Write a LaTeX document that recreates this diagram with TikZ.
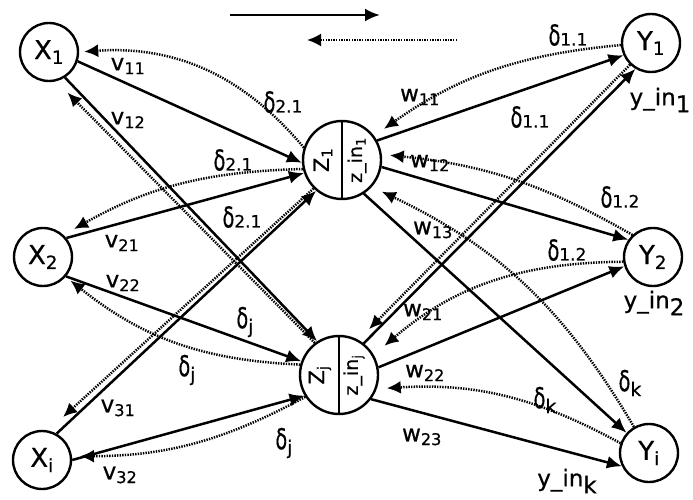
\documentclass[tikz,border=0pt]{standalone}
\usepackage{fontspec}
\setmainfont{DejaVu Sans}[FakeBold=0.6]
\usetikzlibrary{arrows.meta}

\newcommand{\dl}{\scalebox{0.8}[1.2]{δ}}
\newcommand{\fs}[1]{\fontsize{#1}{#1}\selectfont}
\newcommand{\lw}[1]{\raisebox{-5pt}{\fs{19}#1}}

\tikzset{every path/.style={line width=2.5pt}}
\tikzset{
  neuron/.style={circle,draw,line width=2.4pt,minimum size=58pt,inner sep=0pt,font=\fs{26}},
  hidden/.style={circle,draw,line width=2.4pt,minimum size=78pt,inner sep=0pt},
  fwd/.style={line width=2.6pt,-{Latex[length=15pt,width=13pt]}},
  bk/.style={line width=2.2pt,dash pattern=on 1.4pt off 1.2pt,shorten >=8pt,-{Latex[length=14pt,width=13pt]}},
  wlab/.style={inner sep=1pt,font=\fs{23}},
  dlab/.style={inner sep=1pt,font=\fs{24}},
}

\begin{document}
\begin{tikzpicture}[x=1pt,y=1pt]
  \useasboundingbox (0,0) rectangle (693,499);
  % input, hidden and output units
  \node[neuron] (x1) at (49,447) {X\textsubscript{1}};
  \node[neuron] (x2) at (43,242) {X\textsubscript{2}};
  \node[neuron] (xi) at (42,39) {X\textsubscript{i}};
  \node[hidden] (z1) at (342,339) {};
  \node[hidden] (zj) at (339,124) {};
  \node[neuron] (y1) at (651,456) {Y\textsubscript{1}};
  \node[neuron] (y2) at (653,242) {Y\textsubscript{2}};
  \node[neuron] (yi) at (649,46) {Y\textsubscript{i}};
  \draw[line width=1.3pt] (z1.north) -- (z1.south);
  \draw[line width=1.3pt] (zj.north) -- (zj.south);
  \node[rotate=90,font=\fs{21}] (z1a) at ([xshift=-19pt]z1.center) {Z\textsubscript{1}};
  \node[rotate=90,font=\fs{19}] (z1b) at ([xshift=15pt]z1.center) {z\_in\textsubscript{1}};
  \node[rotate=90,font=\fs{21}] (zja) at ([xshift=-19pt]zj.center) {Z\textsubscript{j}};
  \node[rotate=90,font=\fs{19}] (zjb) at ([xshift=15pt]zj.center) {z\_in\textsubscript{j}};

  % legend
  \coordinate (f0) at (230,484);
  \coordinate (f1) at (380,484);
  \coordinate (b0) at (457,459);
  \coordinate (b1) at (307,459);
  \draw[fwd] (f0) -- (f1);
  \draw[bk,shorten >=0pt] (b0) -- (b1);

  % feed forward
  \path[fwd] (x1.342) edge (z1.184);
  \path[fwd] (x1.302) edge (zj.123);
  \path[fwd] (x2.39) edge (z1.199);
  \path[fwd] (x2.320) edge (zj.160);
  \path[fwd] (xi.61) edge (z1.230);
  \path[fwd] (xi.0) edge (zj.211);
  \path[fwd] (z1.29) edge (y1.204);
  \path[fwd] (z1.350) edge (y2.145);
  \path[fwd] (z1.303) edge (yi.138);
  \path[fwd] (zj.52) edge (y1.239);
  \path[fwd] (zj.11) edge (y2.198);
  \path[fwd] (zj.323) edge (yi.206);

  % back propagation of errors
  \path[bk,shorten >=12pt] (y1.184) edge[bend right=15] (z1.37);
  \path[bk,shorten >=15pt] (y1.226) edge (zj.61);
  \path[bk] (y2.133) edge[bend right=12] (z1.8);
  \path[bk,shorten >=14pt] (y2.189) edge[bend right=20] (zj.30);
  \path[bk,shorten >=11pt] (yi.120) edge[bend right=17] (z1.318);
  \path[bk,shorten >=10pt] (yi.161) edge[bend right=16] (zj.340);
  \path[bk,shorten >=5pt] (z1.162) edge[bend right=27] (x1.0);
  \path[bk,shorten >=12pt] (z1.193) edge[bend right=14] (x2.47);
  \path[bk,shorten >=20pt] (z1.225) edge (xi.78);
  \path[bk,shorten >=16pt] (zj.127) edge (x1.284);
  \path[bk,shorten >=6pt] (zj.165) edge[bend left=18] (x2.319);
  \path[bk] (zj.213) edge[bend left=14] (xi.7);

  % weights
  \node[wlab] (v11) at (128,433) {v\textsubscript{11}};
  \node[wlab] (v12) at (128,379) {v\textsubscript{12}};
  \node[wlab] (v21) at (122,256) {v\textsubscript{21}};
  \node[wlab] (v22) at (123,216) {v\textsubscript{22}};
  \node[wlab] (v31) at (118,91) {v\textsubscript{31}};
  \node[wlab] (v32) at (120,24) {v\textsubscript{32}};
  \node[wlab] (w11) at (420,402) {w\textsubscript{11}};
  \node[wlab] (w12) at (430,336) {w\textsubscript{12}};
  \node[wlab] (w13) at (433,269) {w\textsubscript{13}};
  \node[wlab] (w21) at (423,187) {w\textsubscript{21}};
  \node[wlab] (w22) at (425,126) {w\textsubscript{22}};
  \node[wlab] (w23) at (422,62) {w\textsubscript{23}};

  % error terms
  \node[dlab] (d21a) at (283,397) {\dl{\fs{17}2.1}};
  \node[dlab] (d21b) at (233,339) {\dl{\fs{17}2.1}};
  \node[dlab] (d21c) at (242,282) {\dl{\fs{17}2.1}};
  \node[dlab] (dja) at (245,177) {\dl\lw{j}};
  \node[dlab] (djb) at (187,129) {\dl\lw{j}};
  \node[dlab] (djc) at (284,56) {\dl\lw{j}};
  \node[dlab] (d11a) at (568,464) {\dl{\fs{17}1.1}};
  \node[dlab] (d11b) at (530,382) {\dl{\fs{17}1.1}};
  \node[dlab] (d12a) at (620,302) {\dl{\fs{17}1.2}};
  \node[dlab] (d12b) at (567,249) {\dl{\fs{17}1.2}};
  \node[dlab] (dka) at (545,99) {\dl\lw{k}};
  \node[dlab] (dkb) at (630,116) {\dl\lw{k}};

  % net inputs
  \node[wlab] (yin1) at (660,399) {y\_in\raisebox{-7pt}{1}};
  \node[wlab] (yin2) at (654,196) {y\_in\raisebox{-7pt}{2}};
  \node[wlab] (yink) at (567,18) {y\_in\raisebox{-7pt}{k}};
\end{tikzpicture}
\end{document}
